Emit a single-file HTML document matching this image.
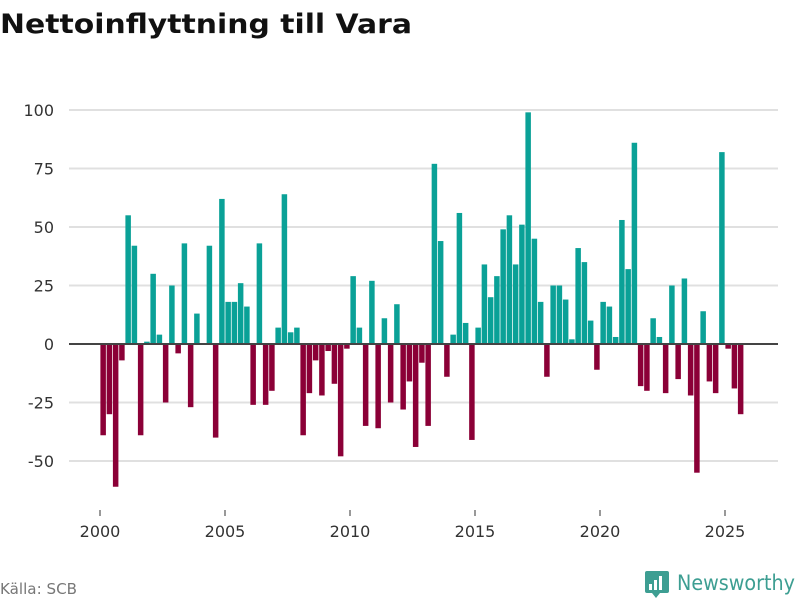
<!DOCTYPE html>
<html><head><meta charset="utf-8"><style>
body{margin:0;background:#fff;width:800px;height:600px;overflow:hidden;font-family:"DejaVu Sans","Liberation Sans",sans-serif}
</style></head><body>
<svg id="chart" width="800" height="600" xmlns="http://www.w3.org/2000/svg">
<text x="0" y="33" font-size="27" font-weight="bold" fill="#111" textLength="412" lengthAdjust="spacingAndGlyphs" font-family="DejaVu Sans, sans-serif">Nettoinflyttning till Vara</text>
<g id="grid"></g><g id="bars"></g><g id="axes"></g>
<text x="0" y="594" font-size="15" fill="#777" textLength="77" lengthAdjust="spacingAndGlyphs">Källa: SCB</text>
<g>
<rect x="645" y="571" width="24" height="22" rx="2" fill="#3d9e92"/>
<polygon points="652,593 660,593 656,598" fill="#3d9e92"/>
<rect x="649" y="584" width="3" height="6" fill="#fff"/><rect x="654" y="580" width="3" height="10" fill="#fff"/><rect x="659" y="576" width="3" height="14" fill="#fff"/>
<text x="677" y="590" font-size="21" fill="#3d9e92" textLength="118" lengthAdjust="spacingAndGlyphs">Newsworthy</text>
</g>
</svg>
<script>
const values = [-39,-30,-61,-7, 55,42,-39,1, 30,4,-25,25, -4,43,-27,13, 0,42,-40,62, 18,18,26,16, -26,43,-26,-20, 7,64,5,7, -39,-21,-7,-22, -3,-17,-48,-2, 29,7,-35,27, -36,11,-25,17, -28,-16,-44,-8, -35,77,44,-14, 4,56,9,-41, 7,34,20,29, 49,55,34,51, 99,45,18,-14, 25,25,19,2, 41,35,10,-11, 18,16,3,53, 32,86,-18,-20, 11,3,-21,25, -15,28,-22,-55, 14,-16,-21,82, -2,-19,-30];
const yTicks = [-50,-25,0,25,50,75,100];
const xTicks = [2000,2005,2010,2015,2020,2025];
const startYear = 2000;
const NS="http://www.w3.org/2000/svg";
function xs(t){return 100+(t-startYear)*25;}
function ys(v){return 344-v*2.34;}
function mk(tag,attrs,parent){const e=document.createElementNS(NS,tag);for(const k in attrs)e.setAttribute(k,attrs[k]);document.getElementById(parent).appendChild(e);return e;}
yTicks.forEach(v=>{
  if(v!==0){const l=mk('line',{x1:69,x2:778,y1:ys(v),y2:ys(v),stroke:'#e0e0e0','stroke-width':2},'grid');
  
  }
  const t=mk('text',{x:54,y:ys(v)+6,'text-anchor':'end','font-size':16,fill:'#333'},'grid');
  t.textContent=v;
  
  
});
values.forEach((v,i)=>{
  const x=xs(startYear+i/4)+0.4;
  const r=mk('rect',{x:x,width:5.5,y:Math.min(ys(v),ys(0)),height:Math.abs(ys(v)-ys(0)),fill:v>=0?'#0aa197':'#8b0037'},'bars');
  
  
});
const z=mk('line',{x1:69,x2:778,y1:ys(0),y2:ys(0),stroke:'#444','stroke-width':2},'axes');


xTicks.forEach(y=>{
  const tk=mk('line',{x1:xs(y),x2:xs(y),y1:510,y2:516,stroke:'#333','stroke-width':1},'axes');
  
  
  const t=mk('text',{x:xs(y),y:537,'text-anchor':'middle','font-size':16,fill:'#333'},'axes');
  t.textContent=y;
  
  
});
</script>
</body></html>
